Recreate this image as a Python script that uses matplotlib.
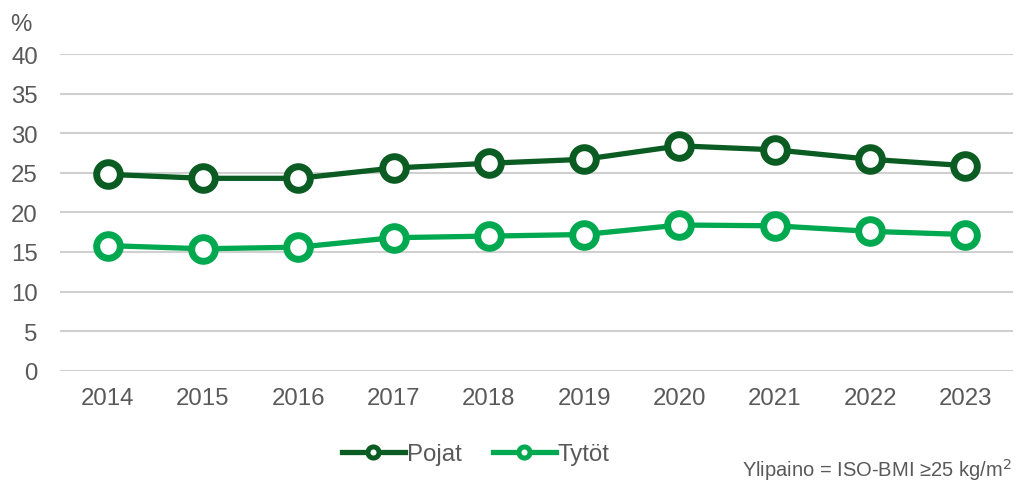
import matplotlib.pyplot as plt
from matplotlib.lines import Line2D

years = ['2014', '2015', '2016', '2017', '2018', '2019', '2020', '2021', '2022', '2023']
pojat = [24.8, 24.3, 24.3, 25.6, 26.2, 26.7, 28.4, 27.9, 26.7, 25.9]
tytot = [15.8, 15.4, 15.6, 16.8, 17.0, 17.2, 18.4, 18.3, 17.6, 17.2]
series_names = ['Pojat', 'Tytöt']
colors = ['#0b5c22', '#00a84f']

plt.rcParams['font.family'] = ['Liberation Sans', 'DejaVu Sans']
text_color = '#595959'

fig = plt.figure(figsize=(10.15, 4.81), dpi=100)
ax = fig.add_axes([60 / 1015, 109.3 / 481, 953 / 1015, 316.7 / 481])

x = range(len(years))
for vals, col in zip([pojat, tytot], colors):
    ax.plot(x, vals, color=col, lw=3.8, marker='o', ms=17, mew=5,
            mfc='white', mec=col, zorder=3)

ax.set_xlim(-0.5, len(years) - 0.5)
ax.set_ylim(0, 40)
ax.set_yticks(range(0, 41, 5))
ax.set_xticks(list(x))
ax.set_xticklabels(years)
ax.grid(axis='y', color='#d0d0d0', lw=1.5)
ax.set_axisbelow(True)
for s in ax.spines.values():
    s.set_visible(False)
ax.tick_params(axis='both', length=0, labelsize=17.3, labelcolor=text_color)
ax.tick_params(axis='y', pad=16)
ax.tick_params(axis='x', pad=12)

fig.text(10 / 1015, 1 - 25 / 481, '%', fontsize=17.3, color=text_color,
         ha='left', va='center')

handles = [Line2D([], [], color=c, lw=3.8, marker='o', ms=8, mew=3.6,
                  mfc='white', mec=c) for c in colors]
fig.legend(handles, series_names, loc='center', bbox_to_anchor=(476 / 1015, 1 - 455 / 481),
           ncol=2, frameon=False, fontsize=17.3, labelcolor=text_color,
           handlelength=2.6, handletextpad=0.1, columnspacing=1.3)

fig.text(1012 / 1015, 1 - 470 / 481, 'Ylipaino = ISO-BMI ≥25 kg/m$^2$', fontsize=14.5,
         color=text_color, ha='right', va='center')

fig.savefig('out.png', dpi=100)
